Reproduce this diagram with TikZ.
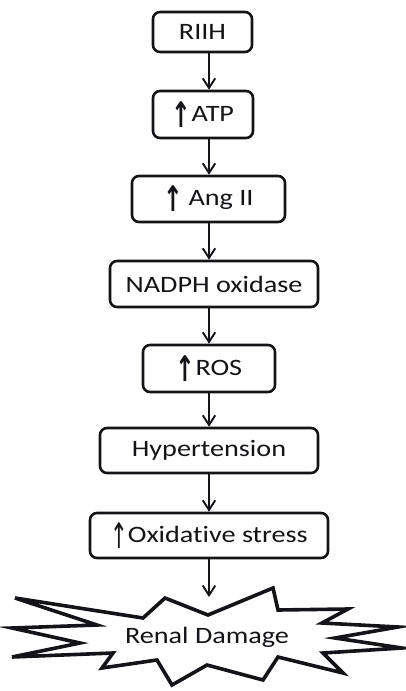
\documentclass[tikz,border=0pt]{standalone}
\usepackage{fontspec}
\setmainfont{Carlito}[Ligatures=NoCommon]
\newfontfamily\arrowfont{DejaVu Sans}
\usepackage{graphicx}
\usetikzlibrary{arrows.meta,positioning}
\definecolor{inkc}{HTML}{141418}
\newcommand{\wide}[1]{\scalebox{1.2}[1]{#1}}
\newcommand{\upb}{\raisebox{-6pt}{\arrowfont\bfseries\scalebox{1}[1.5]{↑}}}
\newcommand{\upt}{\raisebox{-6pt}{\arrowfont\scalebox{0.9}[1.5]{↑}}}
\tikzset{
  ar/.style={-{Straight Barb[length=3.4mm,width=4.4mm]},line width=1.9pt,inkc},
  box/.style={draw=inkc,line width=2.6pt,rounded corners=7pt,fill=white,inner sep=0pt,font=\fontsize{23.5}{27}\selectfont,text=inkc}
}
\begin{document}
\begin{tikzpicture}[x=1pt,y=-1pt]
\useasboundingbox (0,0) rectangle (405,691);
\coordinate (axis) at (209,0);
\node[box,minimum width=99pt,minimum height=40pt] (riih) at (202.5,32) {\wide{RIIH}};
\node[box,minimum width=100pt,minimum height=47pt] (atp) at (203,114.5) {\upb\wide{ATP}};
\node[box,minimum width=153pt,minimum height=46pt] (angii) at (208.5,199) {\upb\ \wide{Ang II}};
\node[box,minimum width=208pt,minimum height=46pt] (nadph) at (214,284) {\wide{NADPH oxidase}};
\node[box,minimum width=132pt,minimum height=47pt] (ros) at (209,368.5) {\upb\wide{ROS}};
\node[box,minimum width=218pt,minimum height=45pt] (hyper) at (209,450.5) {\wide{Hypertension}};
\node[box,minimum width=238pt,minimum height=45pt] (oxid) at (209,535.5) {\upt\wide{Oxidative stress}};
% starburst
\draw[line width=3.6pt,inkc,fill=white] (165,598) -- (143,618) -- (15,598) -- (97,625) -- (12,628)
  -- (80,643) -- (12,657) -- (113,653) -- (102,668) -- (157,660) -- (172,685) -- (207,665)
  -- (263,680) -- (278,657) -- (343,673) -- (323,653) -- (402,648) -- (335,638) -- (398,627)
  -- (322,623) -- (348,609) -- (278,610) -- (273,588) -- (208,615) -- cycle;
\node[font=\fontsize{23.5}{27}\selectfont,text=inkc] (renal) at (207,637) {\wide{Renal Damage}};
\coordinate (hit) at (209,597);
\foreach \a/\b in {riih/atp,atp/angii,angii/nadph,nadph/ros,ros/hyper,hyper/oxid}{
  \draw[ar] (\a.south -| axis) -- (\b.north -| axis);}
\draw[ar] (oxid.south -| axis) -- (hit);
\end{tikzpicture}
\end{document}
